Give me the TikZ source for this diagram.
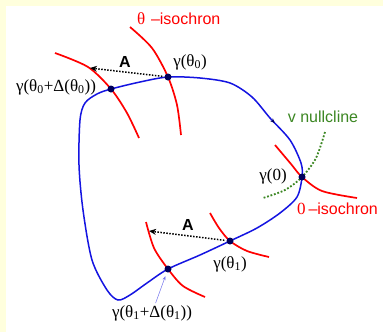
\documentclass[tikz,border=0pt]{standalone}
\usepackage{fontspec}
\setmainfont{Liberation Serif}
\newfontfamily\arial{Liberation Sans}
\usetikzlibrary{arrows.meta,decorations.markings}
\definecolor{paleyellow}{RGB}{255,255,221}
\definecolor{orbitblue}{RGB}{20,20,225}
\definecolor{dotnavy}{RGB}{0,0,90}
\definecolor{nullgreen}{RGB}{60,135,35}
\definecolor{isored}{RGB}{255,0,0}
\begin{document}
\begin{tikzpicture}[x=1pt,y=-1pt,
  iso/.style={isored,line width=1.7pt},
  orbit/.style={orbitblue,line width=1.5pt},
  pt/.style={circle,fill=dotnavy,inner sep=0pt,minimum size=7pt},
  lab/.style={font=\fontsize{17}{20}\selectfont,inner sep=1pt},
  sanslab/.style={font=\arial\fontsize{16}{19}\selectfont,inner sep=1pt},
  shiftarrow/.style={black,line width=1.5pt,dash pattern=on 1.5pt off 1.5pt,-{Stealth[length=7pt,width=6pt]}}]
\fill[paleyellow] (0,0) rectangle (383,332);
\fill[white] (6,6) rectangle (383,332);
% isochrons
\draw[iso] plot[smooth] coordinates {(130,27) (152,48) (168,77) (177,105) (181,135)};
\draw[iso] plot[smooth] coordinates {(55,53) (88,67) (111,89) (127,113) (139,138)};
\draw[iso] plot[smooth] coordinates {(275,145) (291,164) (302,177) (322,191) (357,198)};
\draw[iso] plot[smooth] coordinates {(210,213) (219,228) (230,241) (247,251) (269,257)};
\draw[iso] plot[smooth] coordinates {(146,222) (154,248) (168,269) (183,286) (205,297)};
% v nullcline
\draw[nullgreen,line width=1.8pt,dash pattern=on 1.8pt off 1.8pt] plot[smooth] coordinates {(325,132) (316,158) (302,177) (285,190) (263,198)};
% limit cycle
\draw[orbit,postaction={decorate},decoration={markings,mark=at position 0.128 with {\arrow[dotnavy]{Stealth[length=4.5pt,width=4pt]}}}]
  plot[smooth cycle] coordinates {(168,77) (200,78) (230,83) (252,97) (270,118) (290,140) (301,163)
  (302,177) (297,197) (280,213) (257,228) (230,241) (200,255) (168,269) (147,283) (130,295) (118,300)
  (107,290) (92,260) (83,210) (79,165) (80,120) (85,103) (97,94) (111,89) (140,82)};
% points on the cycle
\node[pt] (p0) at (168,77) {};
\node[pt] (p0d) at (111,89) {};
\node[pt] (pz) at (302,177) {};
\node[pt] (p1) at (230,241) {};
\node[pt] (p1d) at (168,269) {};
\coordinate (tip0) at (90,68);
\coordinate (tip1) at (149,231);
\draw[shiftarrow,shorten <=2pt] (p0) -- (tip0);
\draw[shiftarrow,shorten <=2pt] (p1) -- (tip1);
% labels
\node[lab] (lt0) at (190,62) {γ(θ\textsubscript{0})};
\node[lab] (ltd0) at (56,87) {γ(θ\textsubscript{0}+Δ(θ\textsubscript{0}))};
\node[lab] (lz) at (273,176) {γ(0)};
\node[lab] (lt1) at (230,264) {γ(θ\textsubscript{1})};
\node[lab] (ltd1) at (152,313) {γ(θ\textsubscript{1}+Δ(θ\textsubscript{1}))};
\node[lab,isored,anchor=west] (isoT) at (136,19) {θ\,\,{\arial\fontsize{16}{19}\selectfont –isochron}};
\node[lab,isored,anchor=west] (isoZ) at (296,209) {0\,{\arial\fontsize{16}{19}\selectfont –isochron}};
\node[sanslab,nullgreen] (ncl) at (323,117) {v nullcline};
\node[sanslab,font=\arial\bfseries\fontsize{16}{19}\selectfont] (a0) at (125,62) {A};
\node[sanslab,font=\arial\bfseries\fontsize{16}{19}\selectfont] (a1) at (188,225) {A};
\draw[orbitblue!60,line width=0.5pt,-{Stealth[length=4pt,width=3pt]},shorten <=1pt,shorten >=4pt] (ltd1) -- (p1d);
\end{tikzpicture}
\end{document}
